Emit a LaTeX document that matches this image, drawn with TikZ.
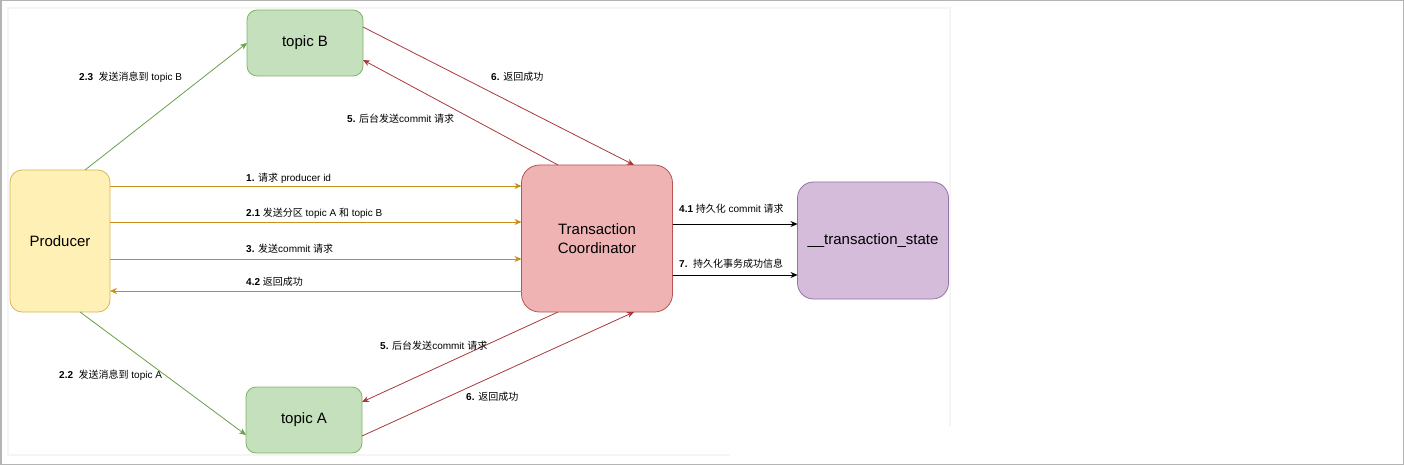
\documentclass[tikz,border=0pt]{standalone}
\usepackage{fontspec}
\setmainfont{Liberation Sans}
\newfontfamily\cjk{Noto Sans CJK SC}
\usepackage{tikz}
\usetikzlibrary{arrows.meta, positioning}

\definecolor{prodfill}{HTML}{FFF0B5}
\definecolor{proddraw}{HTML}{D6B656}
\definecolor{topicfill}{HTML}{C4E0BC}
\definecolor{topicdraw}{HTML}{82B366}
\definecolor{coordfill}{HTML}{F0B3B3}
\definecolor{coorddraw}{HTML}{B85450}
\definecolor{statefill}{HTML}{D4BCDA}
\definecolor{statedraw}{HTML}{9673A6}
\definecolor{greenline}{HTML}{6A9F4A}
\definecolor{orangeline}{HTML}{C8901A}
\definecolor{redline}{HTML}{A8383A}
\definecolor{framegray}{HTML}{B4B4B4}

\newcommand{\zh}[1]{{\cjk #1}}

\begin{document}
\begin{tikzpicture}[x=1pt,y=-1pt,>={Stealth[length=7pt,width=6pt]},
        box/.style={draw,line width=0.8pt,inner sep=0pt,outer sep=0pt,align=center,
                    font=\fontsize{15}{19}\selectfont},
        topic/.style={box,fill=topicfill,draw=topicdraw,minimum width=116pt,minimum height=66pt,rounded corners=10pt},
        lbl/.style={anchor=west,inner sep=0pt,font=\fontsize{10}{12}\selectfont},
        flow/.style={->,line width=0.8pt},]

    % frame of the screenshot
    \draw[framegray,line width=1.5pt] (0.75,0.75) rectangle (1403.25,464.25);
    \draw[black!4,line width=1.5pt] (8,455) -- (8,8) -- (950,8) -- (950,426);
    \draw[black!4,line width=1.5pt] (8,455) -- (730,455);

    \node[box,fill=prodfill,draw=proddraw,minimum width=100pt,minimum height=142pt,rounded corners=12pt] (prod) at (60,241) {Producer};
    \node[topic] (topicB) at (305,43) {topic B};
    \node[topic] (topicA) at (304,420) {topic A};
    \node[box,fill=coordfill,draw=coorddraw,minimum width=151pt,minimum height=147pt,rounded corners=18pt] (coord) at (597,238.5) {Transaction\\Coordinator};
    \node[box,fill=statefill,draw=statedraw,minimum width=151pt,minimum height=117pt,rounded corners=16pt] (state) at (873,240.5) {\_\_transaction\_state};

    % producer <-> coordinator
    \draw[flow,orangeline] ([yshift=55pt]prod.east) -- ([yshift=52.5pt]coord.west);
    \draw[flow,orangeline] ([yshift=19pt]prod.east) -- ([yshift=16.5pt]coord.west);
    \draw[flow,orangeline] ([yshift=-18pt]prod.east) -- ([yshift=-20.5pt]coord.west);
    \draw[flow,orangeline] ([yshift=-52.5pt]coord.west) -- ([yshift=-50pt]prod.east);

    % producer -> topics
    \draw[flow,greenline] ([xshift=25pt]prod.north) -- (topicB.west);
    \draw[flow,greenline] ([xshift=20pt]prod.south) -- ([yshift=-15pt]topicA.west);

    % coordinator <-> topics
    \draw[flow,redline] ([yshift=16pt]topicB.east) -- ([xshift=37pt]coord.north);
    \draw[flow,redline] ([xshift=-39pt]coord.north) -- ([yshift=-17pt]topicB.east);
    \draw[flow,redline] ([xshift=-39pt]coord.south) -- ([yshift=18pt]topicA.east);
    \draw[flow,redline] ([yshift=-16pt]topicA.east) -- ([xshift=37pt]coord.south);

    % coordinator -> state
    \draw[flow,black] ([yshift=14.5pt]coord.east) -- ([yshift=16.5pt]state.west);
    \draw[flow,black] ([yshift=-36.5pt]coord.east) -- ([yshift=-34.5pt]state.west);

    \node[lbl] (l23) at (79,77) {\textbf{2.3}\ \ \zh{发送消息到} topic B};
    \node[lbl] (l5b) at (347,119) {\textbf{5.} \zh{后台发送}commit \zh{请求}};
    \node[lbl] (l6b) at (491,77) {\textbf{6.} \zh{返回成功}};
    \node[lbl] (l1) at (246,178) {\textbf{1.} \zh{请求} producer id};
    \node[lbl] (l21) at (246,213) {\textbf{2.1} \zh{发送分区} topic A \zh{和} topic B};
    \node[lbl] (l3) at (246,249) {\textbf{3.} \zh{发送}commit \zh{请求}};
    \node[lbl] (l42) at (246,282) {\textbf{4.2} \zh{返回成功}};
    \node[lbl] (l41) at (679,209) {\textbf{4.1} \zh{持久化} commit \zh{请求}};
    \node[lbl] (l7) at (679,264) {\textbf{7.}\ \ \zh{持久化事务成功信息}};
    \node[lbl] (l22) at (59,375) {\textbf{2.2}\ \ \zh{发送消息到} topic A};
    \node[lbl] (l5a) at (380,346) {\textbf{5.} \zh{后台发送}commit \zh{请求}};
    \node[lbl] (l6a) at (466,397) {\textbf{6.} \zh{返回成功}};

    \useasboundingbox (0,0) rectangle (1404,465);
\end{tikzpicture}
\end{document}
